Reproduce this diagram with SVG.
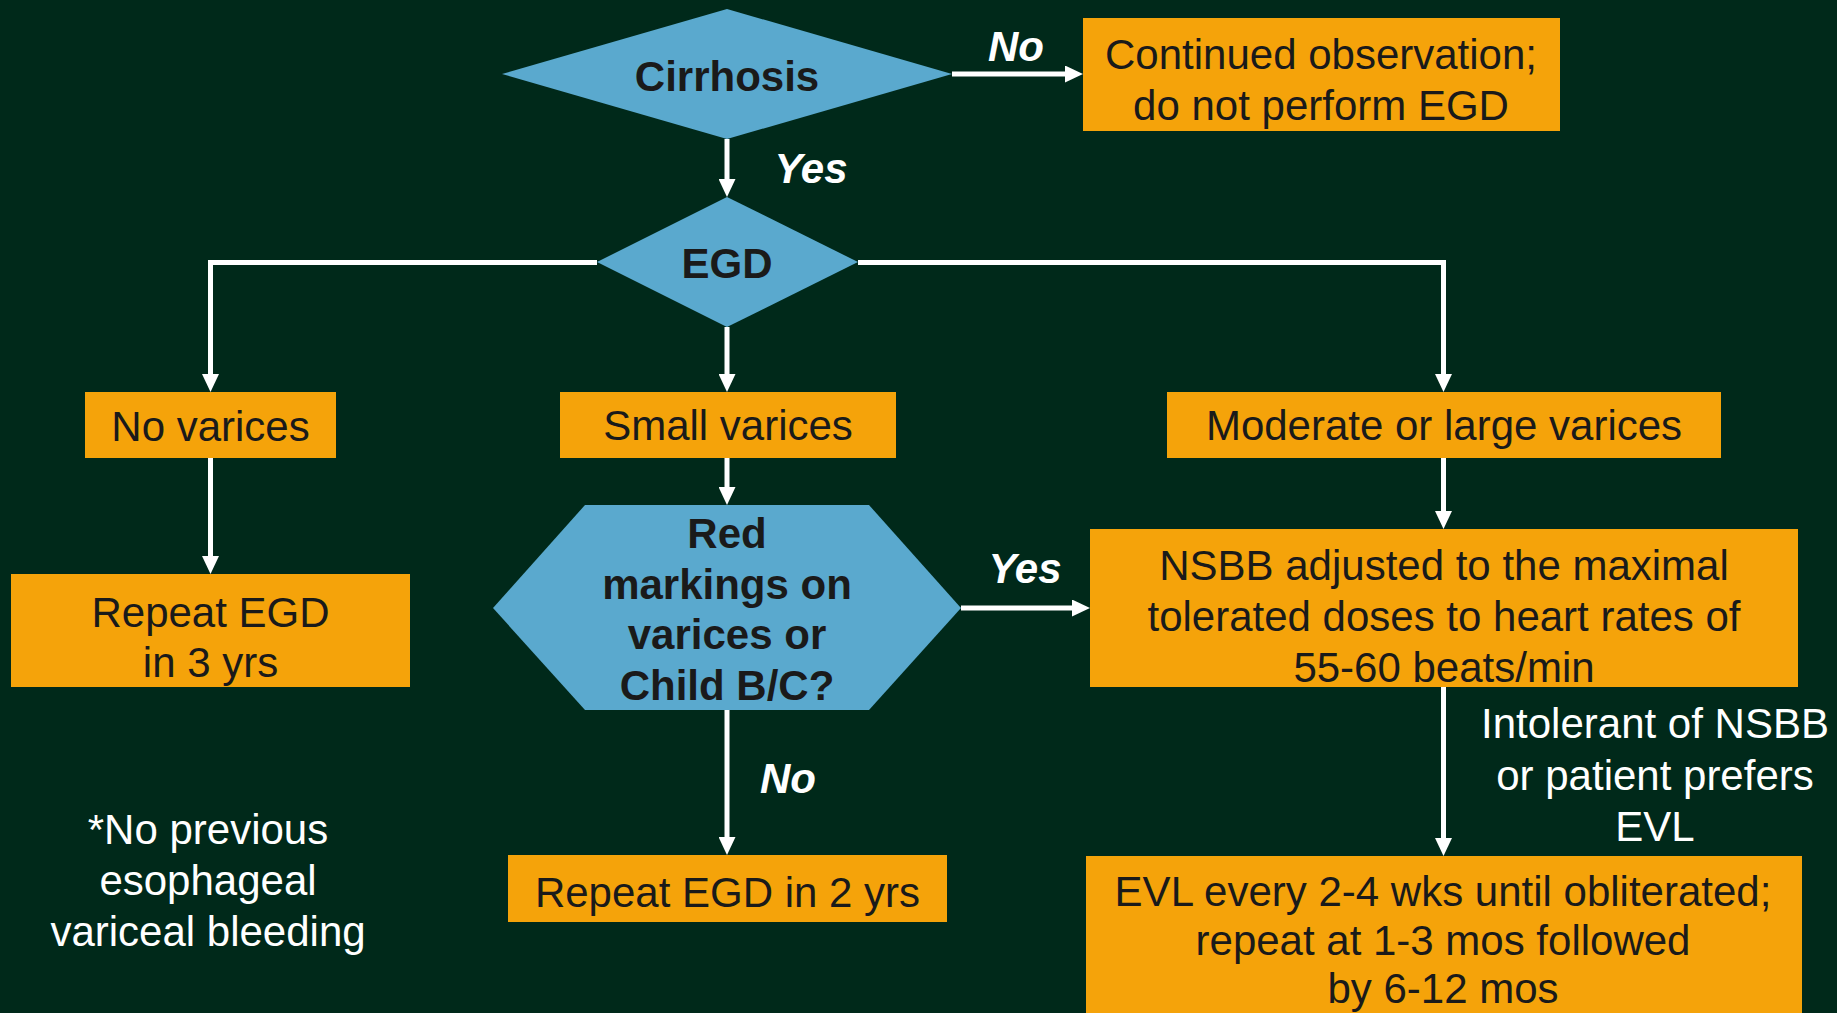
<svg xmlns="http://www.w3.org/2000/svg" width="1837" height="1013" viewBox="0 0 1837 1013">
  <style>
    .dec { fill: #5AA9CE; }
    .box { fill: #F5A30A; }
    .t { font-family: "Liberation Sans", Arial, sans-serif; font-size: 42px; text-anchor: middle; fill: #1A1A1A; }
    .b { font-weight: bold; }
    .lbl { font-family: "Liberation Sans", Arial, sans-serif; font-size: 42px; font-weight: bold; font-style: italic; text-anchor: middle; fill: #FFFFFF; }
    .w { font-family: "Liberation Sans", Arial, sans-serif; font-size: 42px; text-anchor: middle; fill: #FFFFFF; }
    .c { fill: none; stroke: #FFFFFF; stroke-width: 5; marker-end: url(#ah); }
  </style>
  <defs>
    <marker id="ah" markerUnits="userSpaceOnUse" markerWidth="18" markerHeight="17" refX="1" refY="8.5" orient="auto">
      <path d="M0,0 L18,8.5 L0,17 Z" fill="#FFFFFF"/>
    </marker>
  </defs>
  <rect width="1837" height="1013" fill="#00291A"/>

  <g id="connectors">
    <path class="c" d="M727,139 L727,180"/>
    <path class="c" d="M952,74 L1066,74"/>
    <path class="c" d="M597,262.5 L210.5,262.5 L210.5,375"/>
    <path class="c" d="M727,327 L727,375"/>
    <path class="c" d="M858,262.5 L1443.5,262.5 L1443.5,375"/>
    <path class="c" d="M210.5,458 L210.5,557"/>
    <path class="c" d="M727,458 L727,488"/>
    <path class="c" d="M961,608 L1073,608"/>
    <path class="c" d="M727,710 L727,838"/>
    <path class="c" d="M1443.5,458 L1443.5,512"/>
    <path class="c" d="M1443.5,687 L1443.5,839"/>
  </g>

  <g id="labels">
    <text class="lbl" x="811" y="183">Yes</text>
    <text class="lbl" x="1016" y="61">No</text>
    <text class="lbl" x="1025" y="583">Yes</text>
    <text class="lbl" x="788" y="793">No</text>
  </g>

  <g id="cirrhosis">
    <polygon class="dec" points="502,74 727,9 952,74 727,139"/>
    <text class="t b" x="727" y="91">Cirrhosis</text>
  </g>

  <g id="continued">
    <rect class="box" x="1083" y="18" width="477" height="113"/>
    <text class="t" x="1321" y="69">Continued observation;</text>
    <text class="t" x="1321" y="120">do not perform EGD</text>
  </g>

  <g id="egd">
    <polygon class="dec" points="597,262 727,197 858,262 727,327"/>
    <text class="t b" x="727" y="278">EGD</text>
  </g>

  <g id="no-varices">
    <rect class="box" x="85" y="392" width="251" height="66"/>
    <text class="t" x="210.5" y="441">No varices</text>
  </g>

  <g id="small-varices">
    <rect class="box" x="560" y="392" width="336" height="66"/>
    <text class="t" x="728" y="440">Small varices</text>
  </g>

  <g id="moderate-large">
    <rect class="box" x="1167" y="392" width="554" height="66"/>
    <text class="t" x="1444" y="440">Moderate or large varices</text>
  </g>

  <g id="repeat-3">
    <rect class="box" x="11" y="574" width="399" height="113"/>
    <text class="t" x="210.5" y="627">Repeat EGD</text>
    <text class="t" x="210.5" y="677">in 3 yrs</text>
  </g>

  <g id="red-markings">
    <polygon class="dec" points="585,505 869,505 961,608 869,710 585,710 493,608"/>
    <text class="t b" x="727" y="548">Red</text>
    <text class="t b" x="727" y="599">markings on</text>
    <text class="t b" x="727" y="649">varices or</text>
    <text class="t b" x="727" y="700">Child B/C?</text>
  </g>

  <g id="nsbb">
    <rect class="box" x="1090" y="529" width="708" height="158"/>
    <text class="t" x="1444" y="580">NSBB adjusted to the maximal</text>
    <text class="t" x="1444" y="631">tolerated doses to heart rates of</text>
    <text class="t" x="1444" y="682">55-60 beats/min</text>
  </g>

  <g id="intolerant-note">
    <text class="w" x="1655" y="738">Intolerant of NSBB</text>
    <text class="w" x="1655" y="790">or patient prefers</text>
    <text class="w" x="1655" y="841">EVL</text>
  </g>

  <g id="repeat-2">
    <rect class="box" x="508" y="855" width="439" height="67"/>
    <text class="t" x="727.5" y="907">Repeat EGD in 2 yrs</text>
  </g>

  <g id="evl">
    <rect class="box" x="1086" y="856" width="716" height="170"/>
    <text class="t" x="1443" y="906">EVL every 2-4 wks until obliterated;</text>
    <text class="t" x="1443" y="955">repeat at 1-3 mos followed</text>
    <text class="t" x="1443" y="1003">by 6-12 mos</text>
  </g>

  <g id="footnote">
    <text class="w" x="208" y="844">*No previous</text>
    <text class="w" x="208" y="895">esophageal</text>
    <text class="w" x="208" y="946">variceal bleeding</text>
  </g>
</svg>
